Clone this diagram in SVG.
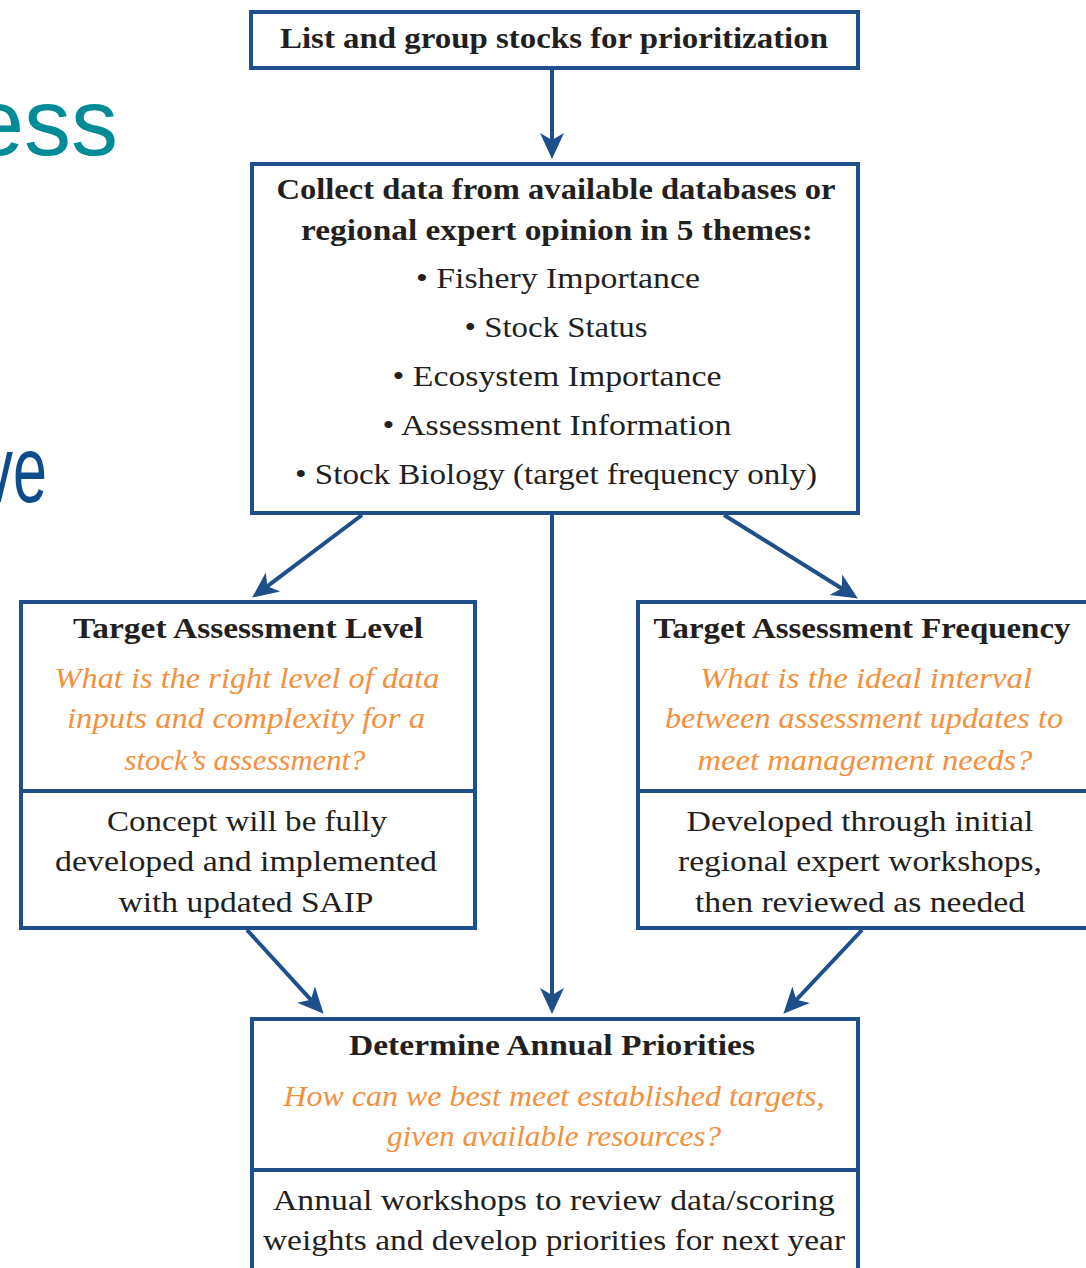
<svg xmlns="http://www.w3.org/2000/svg" width="1086" height="1268" viewBox="0 0 1086 1268">
  <defs>
    <style>
      .box { fill: #ffffff; stroke: #1f4f8b; stroke-width: 4; }
      .div { stroke: #1f4f8b; stroke-width: 4; }
      .conn { stroke: #1f4f8b; stroke-width: 4; fill: none; marker-end: url(#ah); }
      text { font-family: "Liberation Serif", "Times New Roman", serif; font-size: 30px; text-anchor: middle; fill: #231f20; }
      .b { font-weight: bold; }
      .q { font-style: italic; fill: #f29140; }
      .bg { font-family: "Liberation Sans", Arial, sans-serif; font-size: 94px; text-anchor: end; }
    </style>
    <marker id="ah" markerUnits="userSpaceOnUse" markerWidth="26" markerHeight="26" viewBox="0 0 26 26" refX="16" refY="13" orient="auto">
      <path d="M0,1 L26,13 L0,25 L7,13 Z" fill="#1f4f8b"/>
    </marker>
  </defs>

  <g id="bg-text">
    <text class="bg" x="118" y="155" style="fill:#008b96">ess</text>
    <text class="bg" transform="translate(47,502) scale(0.65,1)" x="0" y="0" style="fill:#0e4c8c">ve</text>
  </g>

  <g id="connectors">
    <line class="conn" x1="552" y1="70" x2="552" y2="149"/>
    <line class="conn" x1="552" y1="515" x2="552" y2="1004"/>
    <line class="conn" x1="362" y1="515" x2="260.2" y2="591.6"/>
    <line class="conn" x1="724" y1="515" x2="849.4" y2="593.2"/>
    <line class="conn" x1="247" y1="930" x2="316.9" y2="1006.4"/>
    <line class="conn" x1="862" y1="930" x2="790.2" y2="1006.4"/>
  </g>

  <g id="n-list">
    <rect class="box" x="251" y="12" width="607" height="56"/>
    <text class="b" x="554" y="48" textLength="548" lengthAdjust="spacingAndGlyphs">List and group stocks for prioritization</text>
  </g>

  <g id="n-collect">
    <rect class="box" x="252" y="164" width="606" height="349"/>
    <text class="b" x="556" y="199" textLength="559" lengthAdjust="spacingAndGlyphs">Collect data from available databases or</text>
    <text class="b" x="557" y="240" textLength="512" lengthAdjust="spacingAndGlyphs">regional expert opinion in 5 themes:</text>
    <text x="558" y="288" textLength="284" lengthAdjust="spacingAndGlyphs">• Fishery Importance</text>
    <text x="556" y="337" textLength="183" lengthAdjust="spacingAndGlyphs">• Stock Status</text>
    <text x="557" y="386" textLength="329" lengthAdjust="spacingAndGlyphs">• Ecosystem Importance</text>
    <text x="557" y="435" textLength="349" lengthAdjust="spacingAndGlyphs">• Assessment Information</text>
    <text x="556" y="484" textLength="522" lengthAdjust="spacingAndGlyphs">• Stock Biology (target frequency only)</text>
  </g>

  <g id="n-level">
    <rect class="box" x="21" y="602" width="454" height="326"/>
    <line class="div" x1="21" y1="791" x2="475" y2="791"/>
    <text class="b" x="248" y="638" textLength="350" lengthAdjust="spacingAndGlyphs">Target Assessment Level</text>
    <text class="q" x="247" y="688" textLength="385" lengthAdjust="spacingAndGlyphs">What is the right level of data</text>
    <text class="q" x="246" y="728" textLength="358" lengthAdjust="spacingAndGlyphs">inputs and complexity for a</text>
    <text class="q" x="245" y="770" textLength="241" lengthAdjust="spacingAndGlyphs">stock’s assessment?</text>
    <text x="247" y="831" textLength="280" lengthAdjust="spacingAndGlyphs">Concept will be fully</text>
    <text x="246" y="871" textLength="382" lengthAdjust="spacingAndGlyphs">developed and implemented</text>
    <text x="246" y="912" textLength="255" lengthAdjust="spacingAndGlyphs">with updated SAIP</text>
  </g>

  <g id="n-frequency">
    <rect class="box" x="638" y="602" width="452" height="326"/>
    <line class="div" x1="638" y1="791" x2="1090" y2="791"/>
    <text class="b" x="862" y="638" textLength="417" lengthAdjust="spacingAndGlyphs">Target Assessment Frequency</text>
    <text class="q" x="866" y="688" textLength="332" lengthAdjust="spacingAndGlyphs">What is the ideal interval</text>
    <text class="q" x="864" y="728" textLength="398" lengthAdjust="spacingAndGlyphs">between assessment updates to</text>
    <text class="q" x="865" y="770" textLength="335" lengthAdjust="spacingAndGlyphs">meet management needs?</text>
    <text x="860" y="831" textLength="347" lengthAdjust="spacingAndGlyphs">Developed through initial</text>
    <text x="860" y="871" textLength="364" lengthAdjust="spacingAndGlyphs">regional expert workshops,</text>
    <text x="860" y="912" textLength="330" lengthAdjust="spacingAndGlyphs">then reviewed as needed</text>
  </g>

  <g id="n-annual">
    <rect class="box" x="252" y="1019" width="606" height="270"/>
    <line class="div" x1="252" y1="1170" x2="858" y2="1170"/>
    <text class="b" x="552" y="1055" textLength="406" lengthAdjust="spacingAndGlyphs">Determine Annual Priorities</text>
    <text class="q" x="554" y="1106" textLength="541" lengthAdjust="spacingAndGlyphs">How can we best meet established targets,</text>
    <text class="q" x="554" y="1146" textLength="334" lengthAdjust="spacingAndGlyphs">given available resources?</text>
    <text x="554" y="1210" textLength="562" lengthAdjust="spacingAndGlyphs">Annual workshops to review data/scoring</text>
    <text x="554" y="1250" textLength="582" lengthAdjust="spacingAndGlyphs">weights and develop priorities for next year</text>
  </g>
</svg>
